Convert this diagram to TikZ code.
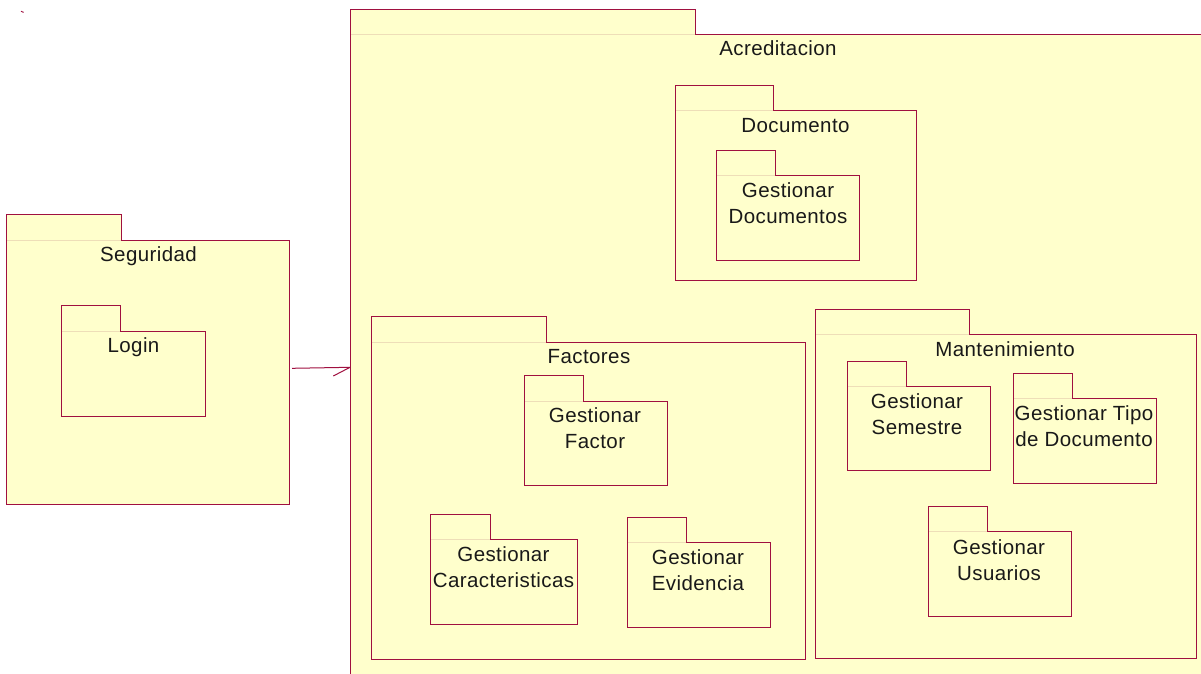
\documentclass[tikz,border=0pt]{standalone}
\usepackage{fontspec}
\setmainfont{Liberation Sans}[LetterSpace=2]
\definecolor{pkgyellow}{RGB}{255,255,204}
\definecolor{pkgred}{RGB}{160,16,64}
\definecolor{pkgtan}{RGB}{238,222,184}
\tikzset{
  pkgbody/.style={fill=pkgyellow, draw=none, inner sep=0pt, outer sep=0pt},
  pkgfill/.style={fill=pkgyellow},
  pkgline/.style={draw=pkgred, line width=1pt, line join=miter},
  pkgseam/.style={draw=pkgtan, line width=1pt},
  pkglabel/.style={font=\fontsize{20.5}{26}\selectfont, inner sep=0pt, text=black!90},
  dependency/.style={draw=pkgred, line width=1pt}
}
% #1 name, #2 left, #3 tab top, #4 tab right, #5 body top, #6 right, #7 bottom
\newcommand\umlpkg[7]{%
  \node[pkgbody, anchor=north west, minimum width={(#6-#2)*1pt}, minimum height={(#7-#5)*1pt}] (#1) at (#2,#5) {};
  \fill[pkgfill] (#2,#3) rectangle (#4,#5);
  \draw[pkgseam] (#2,#5) -- (#4,#5);
  \draw[pkgline] (#2,#7) -- (#2,#3) -- (#4,#3) -- (#4,#5) -- (#6,#5) -- (#6,#7) -- cycle;
}
\begin{document}
\begin{tikzpicture}[x=1pt,y=-1pt]
\useasboundingbox (0,0) rectangle (1201,673);
\fill[white] (0,0) rectangle (1201,673);
\clip (0,0) rectangle (1201,673);

% stray tick in the corner
\draw[pkgred, line width=0.9pt] (21,11.2) -- (23.6,12.4);

% Acreditacion and its packages
\umlpkg{acr}{350}{9.3}{695.3}{34.7}{1240}{720}
\node[pkglabel, anchor=base] (acrL) at (778,55) {Acreditacion};

\umlpkg{doc}{675.7}{85.7}{773.7}{110.7}{916}{280.7}
\node[pkglabel, anchor=base] (docL) at (795.5,132) {Documento};
\umlpkg{gdoc}{716.3}{150.3}{775}{175.7}{859.3}{260.3}
\node[pkglabel, align=center] (gdocL) at (788,203) {Gestionar\\Documentos};

\umlpkg{fac}{371.7}{316}{546.3}{342}{805.7}{659.3}
\node[pkglabel, anchor=base] (facL) at (589,363) {Factores};
\umlpkg{gfac}{524.7}{375.7}{583.3}{401}{667.3}{485.3}
\node[pkglabel, align=center] (gfacL) at (595,428.5) {Gestionar\\Factor};
\umlpkg{gcar}{430}{514.3}{490.7}{539.3}{577.7}{624.3}
\node[pkglabel, align=center] (gcarL) at (503.5,567.5) {Gestionar\\Caracteristicas};
\umlpkg{gevi}{627}{517}{686}{542.3}{770.3}{627}
\node[pkglabel, align=center] (geviL) at (698,570.5) {Gestionar\\Evidencia};

\umlpkg{man}{815}{309.7}{969.3}{334.7}{1196.7}{658.7}
\node[pkglabel, anchor=base] (manL) at (1005,356) {Mantenimiento};
\umlpkg{gsem}{847}{361.7}{906.3}{386.7}{990.3}{470}
\node[pkglabel, align=center] (gsemL) at (917,414) {Gestionar\\Semestre};
\umlpkg{gtip}{1013.7}{373.7}{1072.3}{398.7}{1156.7}{483}
\node[pkglabel, align=center] (gtipL) at (1084,426.5) {Gestionar Tipo\\de Documento};
\umlpkg{gusu}{928}{506.3}{987.3}{531.7}{1071.3}{616.3}
\node[pkglabel, align=center] (gusuL) at (999,560) {Gestionar\\Usuarios};

% Seguridad
\umlpkg{seg}{6.7}{214.7}{121.7}{240.3}{289.3}{504}
\node[pkglabel, anchor=base] (segL) at (148.5,261) {Seguridad};
\umlpkg{log}{61.7}{305.7}{120.3}{331}{205}{416}
\node[pkglabel, anchor=base] (logL) at (133.5,352) {Login};

% dependency Seguridad -> Acreditacion
\coordinate (depfrom) at ([xshift=2.7pt]seg.east |- 0,368.3);
\coordinate (depto) at (acr.west |- 0,367.3);
\draw[dependency] (depfrom) -- (depto);
\draw[dependency] (depto) -- ++(-16.7,8.7);
\end{tikzpicture}
\end{document}
